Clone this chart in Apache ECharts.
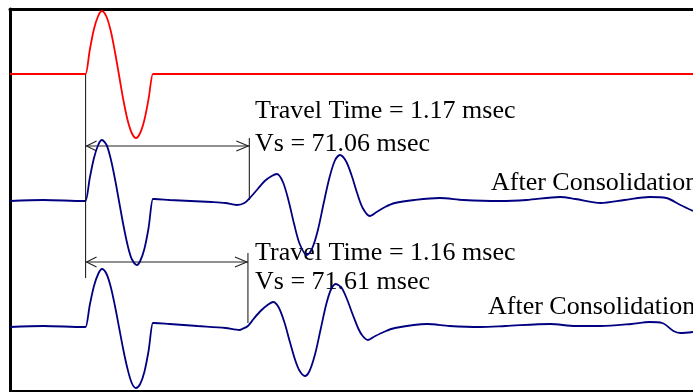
<!DOCTYPE html>
<html>
<head>
<meta charset="utf-8">
<script src="https://cdn.jsdelivr.net/npm/echarts@6/dist/echarts.min.js"></script>
<style>
    html, body { margin: 0; padding: 0; background: #fff; }
    #chart { width: 693px; height: 392px; }
</style>
</head>
<body>
<div id="chart"></div>
<script>
// 时间单位 ms，幅值为相对于各自基线的值
const sourcePulse = [
    [-0.54, 0], [-0.01, 0], [0, 0], [0.03, 2.4], [0.06, 4.5], [0.09, 5.8], [0.117, 6.3], [0.15, 5.7], [0.18, 4.3],
    [0.21, 2.2], [0.24, -0.2], [0.27, -2.6], [0.30, -4.6], [0.33, -5.9], [0.36, -6.4], [0.39, -5.9],
    [0.42, -4.6], [0.45, -2.5], [0.481, 0], [0.49, 0], [2.0, 0], [4.34, 0]
];

const after1 = [
    [-0.54, 0], [-0.3, 0.1], [-0.01, 0], [0, 0], [0.03, 2.3], [0.06, 4.3], [0.09, 5.6], [0.117, 6.1], [0.15, 5.6],
    [0.18, 4.2], [0.21, 2.2], [0.24, -0.1], [0.27, -2.4], [0.30, -4.4], [0.33, -5.8], [0.367, -6.4],
    [0.39, -6.0], [0.42, -4.8], [0.45, -2.7], [0.481, 0.2], [0.49, 0.2], [0.6, 0.1], [0.75, 0.0], [0.9, -0.1],
    [1.0, -0.2], [1.08, -0.4], [1.135, -0.2], [1.18, 0.4], [1.23, 1.2], [1.28, 2.0], [1.33, 2.5],
    [1.367, 2.7], [1.41, 1.9], [1.45, 0.05], [1.49, -2.3], [1.53, -4.3], [1.581, -5.4], [1.62, -4.7],
    [1.66, -2.9], [1.70, -0.3], [1.74, 2.2], [1.78, 4.0], [1.817, 4.6], [1.86, 4.0], [1.90, 2.6],
    [1.94, 0.8], [1.98, -0.7], [2.031, -1.5], [2.08, -1.1], [2.14, -0.6], [2.21, -0.2], [2.35, 0.1],
    [2.53, 0.3], [2.7, 0.1], [2.96, 0.0], [3.15, 0.1], [3.39, 0.4], [3.5, 0.2], [3.68, -0.2],
    [3.85, 0.1], [4.03, 0.4], [4.15, 0.3], [4.25, -0.4], [4.34, -1.0]
];

const after2 = [
    [-0.54, 0], [-0.3, 0.1], [-0.01, 0], [0, 0], [0.03, 2.2], [0.06, 4.1], [0.09, 5.3], [0.117, 5.8], [0.15, 5.3],
    [0.18, 4.0], [0.21, 2.1], [0.24, -0.1], [0.27, -2.3], [0.30, -4.2], [0.33, -5.6], [0.36, -6.1],
    [0.39, -5.7], [0.42, -4.5], [0.45, -2.4], [0.481, 0.4], [0.49, 0.4], [0.6, 0.3], [0.8, 0.1], [1.0, -0.1],
    [1.1, -0.3], [1.12, -0.2], [1.16, 0.1], [1.20, 0.8], [1.25, 1.6], [1.30, 2.2], [1.34, 2.5],
    [1.38, 1.95], [1.42, 0.5], [1.46, -1.5], [1.50, -3.4], [1.53, -4.4], [1.567, -4.9], [1.60, -4.4],
    [1.64, -2.7], [1.68, -0.2], [1.72, 2.3], [1.755, 3.8], [1.789, 4.3], [1.83, 3.9], [1.87, 2.7],
    [1.91, 1.2], [1.95, -0.2], [1.98, -0.9], [2.017, -1.3], [2.07, -0.9], [2.13, -0.5], [2.21, -0.1],
    [2.44, 0.3], [2.6, 0.1], [2.82, 0.0], [3.0, 0.1], [3.32, 0.3], [3.5, 0.1], [3.68, 0.1],
    [3.9, 0.3], [4.03, 0.5], [4.12, 0.4], [4.2, -0.4], [4.25, -0.6], [4.34, -0.5]
];

// 各曲线基线
const baseSource = 31.7;
const baseAfter1 = 19.0;
const baseAfter2 = 6.4;

// 走时与箭头高度
const travelTimes = [1.17, 1.16];
const arrowLevels = [24.5, 12.9];
// 竖线 [t, 上端, 下端]
const markerLines = [
    [0, 31.7, 11.3],
    [1.17, 25.3, 19.1],
    [1.16, 13.8, 6.8]
];
const velocities = ['71.06', '71.61'];

function shift(d, base) {
    return d.map(p => [p[0], p[1] + base]);
}

const serifFont = '26px "Liberation Serif", "Times New Roman", serif';
const lineColor = '#222222';

const eChart = window.echarts.init(document.getElementById('chart'));

function waveSeries(name, data, base, color, width) {
    return {
        name: name,
        type: 'line',
        data: shift(data, base),
        showSymbol: false,
        smooth: 0.3,
        lineStyle: { color: color, width: width },
        silent: true,
        z: 3
    };
}

function label(text, x, y) {
    return {
        type: 'text',
        x: x,
        y: y,
        style: { text: text, font: serifFont, fill: '#000', verticalAlign: 'middle' }
    };
}

const option = {
    animation: false,
    grid: { left: 10, right: 0, top: 9, bottom: 1 },
    xAxis: [
        {
            type: 'value',
            min: -0.54,
            max: 4.34,
            axisLine: { show: true, onZero: false, lineStyle: { color: '#000', width: 2 } },
            axisTick: { show: false },
            axisLabel: { show: false },
            splitLine: { show: false }
        },
        {
            type: 'value',
            position: 'top',
            min: -0.54,
            max: 4.34,
            axisLine: { show: true, onZero: false, lineStyle: { color: '#000', width: 3 } },
            axisTick: { show: false },
            axisLabel: { show: false },
            splitLine: { show: false }
        }
    ],
    yAxis: {
        type: 'value',
        min: 0,
        max: 38.2,
        axisLine: { show: true, onZero: false, lineStyle: { color: '#000', width: 3 } },
        axisTick: { show: false },
        axisLabel: { show: false },
        splitLine: { show: false }
    },
    series: [
        waveSeries('source', sourcePulse, baseSource, '#ff0000', 1.8),
        waveSeries('after1', after1, baseAfter1, '#000080', 1.8),
        waveSeries('after2', after2, baseAfter2, '#000080', 1.8),
        {
            // 竖线
            type: 'custom',
            data: markerLines,
            silent: true,
            z: 2,
            renderItem: function(params, api) {
                const p0 = api.coord([api.value(0), api.value(1)]);
                const p1 = api.coord([api.value(0), api.value(2)]);
                return {
                    type: 'line',
                    shape: { x1: p0[0], y1: p0[1], x2: p1[0], y2: p1[1] },
                    style: { stroke: lineColor, lineWidth: 1.1 }
                };
            }
        },
        {
            // 双向箭头
            type: 'custom',
            data: travelTimes.map((t, i) => [0, t, arrowLevels[i]]),
            silent: true,
            z: 2,
            renderItem: function(params, api) {
                const a = api.coord([api.value(0), api.value(2)]);
                const b = api.coord([api.value(1), api.value(2)]);
                const st = { stroke: lineColor, lineWidth: 1.1, fill: null };
                return {
                    type: 'group',
                    children: [
                        { type: 'line', shape: { x1: a[0], y1: a[1], x2: b[0], y2: b[1] }, style: st },
                        {
                            type: 'polyline',
                            shape: { points: [[a[0] + 11, a[1] - 5], [a[0] + 1, a[1]], [a[0] + 11, a[1] + 5]] },
                            style: st
                        },
                        {
                            type: 'polyline',
                            shape: { points: [[b[0] - 13, b[1] - 5], [b[0] - 1, b[1]], [b[0] - 13, b[1] + 5]] },
                            style: st
                        }
                    ]
                };
            }
        }
    ],
    graphic: [
        label('Travel Time = ' + travelTimes[0] + ' msec', 255, 111),
        label('Vs = ' + velocities[0] + ' msec', 255, 144.5),
        label('Travel Time = ' + travelTimes[1] + ' msec', 255, 253),
        label('Vs = ' + velocities[1] + ' msec', 255, 282.5),
        label('After Consolidation', 491, 183),
        label('After Consolidation', 488, 307)
    ]
};

eChart.setOption(option);
</script>
</body>
</html>
